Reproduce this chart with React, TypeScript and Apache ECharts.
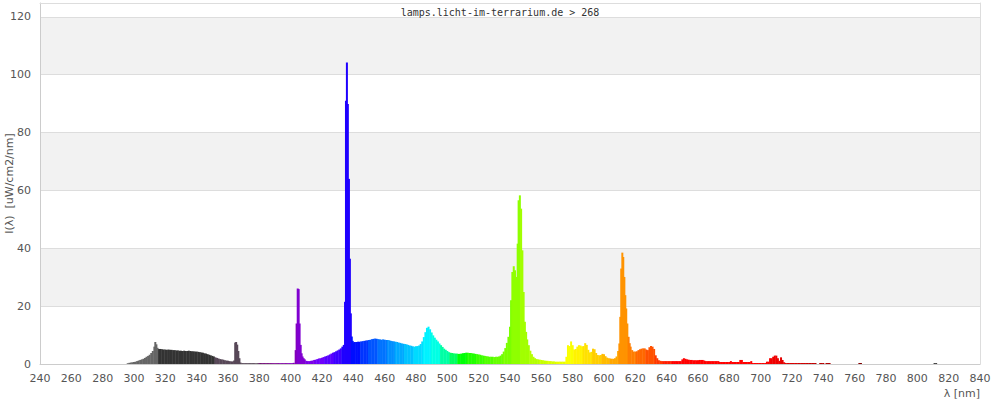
import React, { useEffect, useRef } from "react";
import * as echarts from "echarts";

const TITLE = "lamps.licht-im-terrarium.de > 268";
const Y_NAME = "I(λ)  [uW/cm2/nm]";
const X_NAME = "λ [nm]";
const X_MIN = 240;
const X_MAX = 840;
const X_STEP = 20;
const Y_MAX = 124.8;
const Y_STEP = 20;

// [wavelength nm, intensity]
const uvbBand: [number, number][] = [
  [296, 0.3], [297, 0.4], [298, 0.5], [299, 0.6], [300, 0.7], [301, 0.8], [302, 1.0], [303, 1.2],
  [304, 1.4], [305, 1.6], [306, 1.8], [307, 2.1], [308, 2.5], [309, 2.8], [310, 3.2], [311, 3.8],
  [312, 4.5], [313, 6.0], [313.6, 7.6], [314.3, 6.8], [315, 5.6],
];
const uva2Band: [number, number][] = [
  [316, 5.2], [317, 5.2], [318, 5.1], [319, 5.0], [320, 5.0], [321, 4.9], [322, 5.0], [323, 4.9],
  [324, 4.9], [325, 4.8], [326, 4.8], [327, 4.7], [328, 4.7], [329, 4.6], [330, 4.6], [331, 4.5],
  [332, 4.6], [333, 4.5], [334, 4.5], [335, 4.6], [336, 4.5], [337, 4.4], [338, 4.4], [339, 4.3],
  [340, 4.3], [341, 4.2], [342, 4.1], [343, 4.0], [344, 3.9], [345, 3.7], [346, 3.6], [347, 3.4],
  [348, 3.2], [349, 3.0], [350, 2.8], [351, 2.6],
];
const uva1Band: [number, number][] = [
  [352, 2.3], [353, 2.1], [354, 1.9], [355, 1.7], [356, 1.6], [357, 1.5], [358, 1.3], [359, 1.2],
  [360, 1.1], [361, 1.0], [362, 0.9], [363, 0.9], [363.9, 1.2], [364.6, 7.4], [365.2, 7.6],
  [365.9, 6.7], [366.6, 4.5], [367.3, 2.0], [368, 0.5], [369, 0.3], [370, 0.3], [371, 0.3],
  [372, 0.3], [373, 0.3], [374, 0.3], [375, 0.3], [376, 0.3], [377, 0.3], [378, 0.3], [379, 0.3],
];
const violetBand: [number, number][] = [
  [380, 0.3], [381, 0.3], [382, 0.3], [383, 0.3], [384, 0.3], [385, 0.3], [386, 0.3], [387, 0.3],
  [388, 0.3], [389, 0.3], [390, 0.3], [391, 0.3], [392, 0.3], [393, 0.3], [394, 0.3], [395, 0.3],
  [396, 0.3], [397, 0.3], [398, 0.3], [399, 0.3], [400, 0.3], [401, 0.3], [402, 0.4],
  [403.2, 4.8], [403.8, 14.0], [404.5, 26.1], [405.1, 25.9], [405.7, 14.0], [406.4, 6.6],
  [407.0, 3.7], [407.6, 2.6], [408.3, 2.0], [409, 1.6], [410, 1.1], [411, 1.0], [412, 1.0],
  [413, 1.1], [414, 1.2], [415, 1.4], [416, 1.5], [417, 1.7], [418, 1.9], [419, 2.0], [420, 2.2],
  [421, 2.4], [422, 2.6], [423, 2.8], [424, 3.0], [425, 3.3], [426, 3.6], [427, 3.9], [428, 4.1],
  [429, 4.4], [430, 4.7], [431, 5.0], [432, 5.4], [433, 6.0], [433.9, 6.6],
  [434.7, 21.5], [435.3, 91.0], [435.9, 104.2], [436.5, 89.9], [437.2, 64.0], [437.8, 36.4],
  [438.4, 17.5], [439.0, 9.5], [439.6, 8.0],
];
const blueBand: [number, number][] = [
  [440, 7.5], [441, 7.6], [442, 7.6], [443, 7.7], [444, 7.7], [445, 7.8], [446, 7.9], [447, 8.0],
  [448, 8.1], [449, 8.2], [450, 8.3], [451, 8.4], [452, 8.6], [453, 8.7], [454, 8.8], [455, 8.7],
  [456, 8.6], [457, 8.5], [458, 8.4], [459, 8.5], [460, 8.4], [461, 8.3], [462, 8.3], [463, 8.2],
  [464, 8.0], [465, 7.9], [466, 7.8], [467, 7.7], [468, 7.6], [469, 7.4], [470, 7.3], [471, 7.1],
  [472, 7.0], [473, 6.9], [474, 6.8], [475, 6.6], [476, 6.4], [477, 6.3], [478, 6.1], [479, 6.0],
  [480, 6.1], [481, 6.2], [482, 6.4], [483, 6.9], [484, 7.8], [485, 9.3], [486, 11.0], [487, 12.5],
  [488, 12.9], [489, 12.0], [490, 10.9], [491, 9.9], [492, 9.1], [493, 8.4], [494, 7.8], [495, 7.1],
  [496, 6.5], [497, 5.9], [498, 5.3], [499, 4.9],
];
const greenBand: [number, number][] = [
  [500, 4.5], [501, 4.1], [502, 3.9], [503, 3.8], [504, 3.7], [505, 3.6], [506, 3.6], [507, 3.5],
  [508, 3.5], [509, 3.6], [510, 3.7], [511, 3.8], [512, 3.9], [513, 3.9], [514, 3.8], [515, 3.8],
  [516, 3.7], [517, 3.6], [518, 3.5], [519, 3.4], [520, 3.3], [521, 3.2], [522, 3.0], [523, 2.9],
  [524, 2.8], [525, 2.7], [526, 2.6], [527, 2.5], [528, 2.5], [529, 2.5], [530, 2.4], [531, 2.5],
  [532, 2.5], [533, 2.6], [534, 2.9], [535, 3.4], [536, 4.3], [537, 5.5], [538, 7.3], [539, 9.4],
  [540, 12.9], [540.7, 22.0], [541.5, 31.8], [542.4, 33.8], [543.2, 32.4], [544.0, 30.1],
  [544.9, 41.6], [545.5, 56.6], [546.3, 58.3], [547.1, 53.7], [547.9, 39.3], [548.7, 24.9],
  [549.5, 14.6], [550.3, 11.1], [551, 8.5], [552, 6.5], [553, 4.6], [554, 3.4], [555, 2.5],
  [556, 2.0], [557, 1.7], [558, 1.6], [559, 1.5], [560, 1.4], [561, 1.3], [562, 1.2], [563, 1.1],
  [564, 1.1], [565, 1.0], [566, 1.0], [567, 0.9], [568, 0.9], [569, 0.8], [570, 0.8], [571, 0.8],
  [572, 0.8], [573, 0.8], [574, 0.8], [575, 0.8],
];
const yellowOrangeBand: [number, number][] = [
  [576, 2.5], [577, 6.5], [578, 6.2], [579, 7.8], [580, 6.5], [581, 5.0], [582, 5.2], [583, 6.0],
  [584, 6.5], [585, 6.4], [586, 6.1], [587, 6.2], [588, 7.2], [589, 6.6], [590, 4.9], [591, 4.0],
  [592, 4.2], [593, 5.3], [594, 5.1], [595, 3.8], [596, 3.1], [597, 3.0], [598, 3.1], [599, 3.5],
  [600, 3.4], [601, 2.7], [602, 2.2], [603, 2.0], [604, 1.9], [605, 1.8], [606, 1.8], [607, 2.0],
  [608, 2.6], [609, 4.5], [609.8, 7.1], [610.4, 16.3], [611.0, 33.0], [611.7, 38.5], [612.3, 37.0],
  [613.0, 30.1], [613.6, 23.8], [614.2, 19.2], [614.9, 14.0], [615.7, 9.4], [616.4, 7.2],
  [617, 6.0], [618, 4.8], [619, 4.3], [620, 4.3], [621, 4.4], [622, 4.8], [623, 5.1], [624, 5.3],
  [625, 5.4], [626, 5.4], [627, 5.0], [628, 4.8], [629, 5.8], [630, 6.2], [631, 6.0], [632, 5.2],
  [633, 3.0], [634, 2.0], [635, 1.3], [636, 1.1],
];
const redBand: [number, number][] = [
  [637, 1.0], [638, 1.0], [639, 1.0], [640, 1.0], [641, 1.0], [642, 1.0], [643, 1.0], [644, 1.0],
  [645, 1.0], [646, 1.0], [647, 1.0], [648, 1.0], [649, 1.0], [650, 1.6], [651, 2.0], [652, 1.8],
  [653, 1.6], [654, 1.5], [655, 1.4], [656, 1.4], [657, 1.3], [658, 1.3], [659, 1.3], [660, 1.3],
  [661, 1.4], [662, 1.4], [663, 1.4], [664, 1.2], [665, 1.0], [666, 1.0], [667, 1.0], [668, 1.0],
  [669, 1.0], [670, 1.0], [671, 1.0], [672, 1.0], [673, 1.0], [674, 0.7], [675, 0.7], [676, 0.7],
  [677, 0.7], [678, 0.7], [679, 0.7], [680, 0.7], [681, 1.0], [682, 0.7], [683, 0.7], [684, 0.7],
  [685, 0.7], [686, 0.7], [687, 1.4], [688, 1.4], [689, 0.7], [690, 0.7], [691, 0.7], [692, 0.7],
  [693, 0.7], [694, 1.0], [695, 0.35], [696, 0.35], [697, 0.35], [698, 0.35], [699, 0.35],
  [700, 0.35], [701, 0.35], [702, 0.35], [703, 0.35], [704, 0.8], [705, 0.8], [706, 2.0],
  [707, 2.0], [708, 2.5], [709, 2.9], [710, 2.9], [711, 2.0], [712, 1.1], [713, 2.3], [714, 1.4],
  [715, 0.6],
];
const nearIrBand: [number, number][] = [
  [716, 0.35], [717, 0.35], [718, 0.35], [719, 0.35], [720, 0.35], [721, 0.35], [722, 0.35],
  [723, 0.35], [724, 0.35], [725, 0.35], [726, 0.35], [727, 0.35], [728, 0.35], [729, 0.35],
  [730, 0.35], [731, 0.35], [732, 0.35], [733, 0.35], [734, 0.35], [735, 0.35],
  [738, 0.35], [739, 0.35], [740, 0.35], [742, 0.35], [743, 0.35], [744, 0.35],
  [763, 0.35], [764, 0.35], [811, 0.35], [812, 0.35],
];

function spectrumColor(nm: number): string {
  if (nm < 316) return "#666666";
  if (nm < 352) return "#333333";
  if (nm < 380) return "#584858";
  if (nm >= 780) return "#444444";
  const w = 381.5 + Math.floor((nm - 381.5) / 5.7) * 5.7 + 2.85;
  let r = 0, g = 0, b = 0;
  if (w < 440) { r = -(w - 440) / 60; b = 1; }
  else if (w < 490) { g = (w - 440) / 50; b = 1; }
  else if (w < 510) { g = 1; b = -(w - 510) / 20; }
  else if (w < 580) { r = (w - 510) / 70; g = 1; }
  else if (w < 645) { r = 1; g = -(w - 645) / 65; }
  else { r = 1; }
  let f = 1;
  if (w < 420) f = 0.3 + (0.7 * (w - 380)) / 40;
  else if (w > 700) f = 0.3 + (0.7 * (780 - w)) / 80;
  const c = (v: number) => (v <= 0 ? 0 : Math.round(255 * Math.pow(Math.min(1, v) * f, 0.8)));
  return `rgb(${c(r)},${c(g)},${c(b)})`;
}

export default function App() {
  const ref = useRef<HTMLDivElement>(null);
  useEffect(() => {
    if (!ref.current) return;
    const chart = echarts.init(ref.current, undefined, { renderer: "svg" });
    const data = [
      ...uvbBand, ...uva2Band, ...uva1Band, ...violetBand, ...blueBand,
      ...greenBand, ...yellowOrangeBand, ...redBand, ...nearIrBand,
    ];
    const labelFont = { color: "#555", fontSize: 11, fontFamily: "DejaVu Sans" };
    chart.setOption({
      animation: false,
      backgroundColor: "#fff",
      grid: { left: 40, right: 20, top: 3, bottom: 36, containLabel: false, outerBoundsMode: "none" },
      graphic: [
        {
          type: "text",
          left: "center",
          top: 7,
          z: 100,
          style: { text: TITLE, font: '10px "DejaVu Sans Mono"', fill: "#333" },
        },
        {
          type: "text",
          right: 20,
          top: 388,
          style: { text: X_NAME, font: '11px "DejaVu Sans"', fill: "#555" },
        },
      ],
      xAxis: [
        {
          type: "value",
          min: X_MIN,
          max: X_MAX,
          interval: X_STEP,
          axisLine: { show: true, lineStyle: { color: "#ccc" } },
          axisTick: { show: false },
          splitLine: { show: false },
          axisLabel: { ...labelFont, margin: 9 },
        },
        {
          type: "value",
          position: "top",
          min: 0,
          max: 1,
          axisLine: { show: true, onZero: false, lineStyle: { color: "#ddd" } },
          axisTick: { show: false },
          axisLabel: { show: false },
          splitLine: { show: false },
        },
      ],
      yAxis: [
        {
          type: "value",
          min: 0,
          max: Y_MAX,
          interval: Y_STEP,
          name: Y_NAME,
          nameLocation: "middle",
          nameGap: 25,
          nameMoveOverlap: false,
          nameTextStyle: { color: "#555", fontSize: 11, fontFamily: "DejaVu Sans" },
          axisLine: { show: true, lineStyle: { color: "#ccc" } },
          axisTick: { show: false },
          axisLabel: { ...labelFont, margin: 9, showMaxLabel: false },
          splitLine: { show: true, lineStyle: { color: "#ddd" } },
          splitArea: { show: true, areaStyle: { color: ["#ffffff", "#f2f2f2"] } },
        },
        {
          type: "value",
          position: "right",
          min: 0,
          max: 1,
          axisLine: { show: true, onZero: false, lineStyle: { color: "#ddd" } },
          axisTick: { show: false },
          axisLabel: { show: false },
          splitLine: { show: false },
        },
      ],
      series: [
        {
          type: "bar",
          xAxisIndex: 0,
          yAxisIndex: 0,
          data,
          barWidth: 2,
          silent: true,
          itemStyle: { color: (p: any) => spectrumColor(p.value[0]) },
        },
      ],
    });
    return () => chart.dispose();
  }, []);
  return (
    <div
      ref={ref}
      style={{ position: "absolute", left: 0, top: 0, width: 1000, height: 400 }}
    />
  );
}
